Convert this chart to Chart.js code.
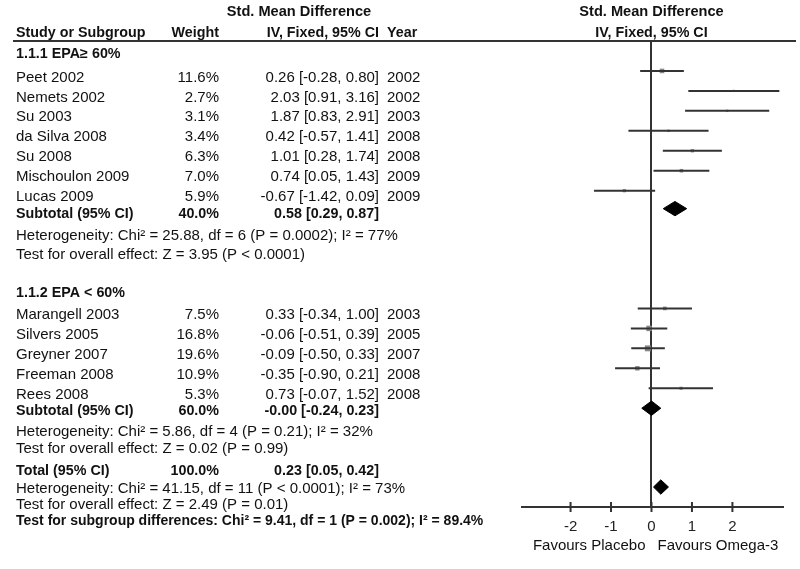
<!DOCTYPE html>
<html>
<head>
<meta charset="utf-8">
<script src="https://cdn.jsdelivr.net/npm/chart.js@4.4.1/dist/chart.umd.min.js"></script>
<style>
  html, body { margin: 0; padding: 0; background: #fff; }
  #wrap { width: 800px; height: 569px; }
</style>
</head>
<body>
<div id="wrap"><canvas id="forest" width="800" height="569"></canvas></div>
<script>
// 1.1.1 EPA >= 60%
const studies1 = ['Peet 2002', 'Nemets 2002', 'Su 2003', 'da Silva 2008', 'Su 2008', 'Mischoulon 2009', 'Lucas 2009'];
const weights1 = [11.6, 2.7, 3.1, 3.4, 6.3, 7.0, 5.9];
const smd1 = [0.26, 2.03, 1.87, 0.42, 1.01, 0.74, -0.67];
const lower1 = [-0.28, 0.91, 0.83, -0.57, 0.28, 0.05, -1.42];
const upper1 = [0.80, 3.16, 2.91, 1.41, 1.74, 1.43, 0.09];
const years1 = [2002, 2002, 2003, 2008, 2008, 2009, 2009];

// 1.1.2 EPA < 60%
const studies2 = ['Marangell 2003', 'Silvers 2005', 'Greyner 2007', 'Freeman 2008', 'Rees 2008'];
const weights2 = [7.5, 16.8, 19.6, 10.9, 5.3];
const smd2 = [0.33, -0.06, -0.09, -0.35, 0.73];
const lower2 = [-0.34, -0.51, -0.50, -0.90, -0.07];
const upper2 = [1.00, 0.39, 0.33, 0.21, 1.52];
const years2 = [2003, 2005, 2007, 2008, 2008];

// pooled: subtotal 1, subtotal 2, total
const pooledLabels = ['Subtotal (95% CI)', 'Subtotal (95% CI)', 'Total (95% CI)'];
const pooledWeights = [40.0, 60.0, 100.0];
const pooledSmd = [0.58, -0.00, 0.23];
const pooledLower = [0.29, -0.24, 0.05];
const pooledUpper = [0.87, 0.23, 0.42];

const groupTitles = ['1.1.1 EPA\u2265 60%', '1.1.2 EPA < 60%'];
const heterogeneity = [
  'Heterogeneity: Chi\u00b2 = 25.88, df = 6 (P = 0.0002); I\u00b2 = 77%',
  'Heterogeneity: Chi\u00b2 = 5.86, df = 4 (P = 0.21); I\u00b2 = 32%',
  'Heterogeneity: Chi\u00b2 = 41.15, df = 11 (P < 0.0001); I\u00b2 = 73%'
];
const overallEffect = [
  'Test for overall effect: Z = 3.95 (P < 0.0001)',
  'Test for overall effect: Z = 0.02 (P = 0.99)',
  'Test for overall effect: Z = 2.49 (P = 0.01)'
];
const subgroupTest = 'Test for subgroup differences: Chi\u00b2 = 9.41, df = 1 (P = 0.002); I\u00b2 = 89.4%';

const xTicks = [-2, -1, 0, 1, 2];
const favours = ['Favours Placebo', 'Favours Omega-3'];

// --- layout (y scale in row units, one study line = 1) ---
const FONT = "'Liberation Sans', Arial, sans-serif";
const rows1 = studies1.map((s, i) => 1 + i);
const rows2 = studies2.map((s, i) => 12.9 + i);
const pooledRows = [7.9, 17.9, 21.85];
const TEXT_SHIFT = 0.25;
const TEXT_DY = 1.5;
const groupTitleRows = [0.1, 12.05];
const pooledTextRows = [8.1, 17.95, 20.95];
const hetRows = [9.2, 19.0, 21.85];
const effectRows = [10.15, 19.85, 22.65];
const subgroupRow = 23.5;
const DIAMOND_H = 0.36;
const COL = { name: 16, weight: 219, ci: 379, year: 387 };
const INK = '#333';

function fmt(v) {
  return (Object.is(v, -0) ? '-' : '') + v.toFixed(2);
}
function ciText(est, lo, hi) {
  return fmt(est) + ' [' + fmt(lo) + ', ' + fmt(hi) + ']';
}

const allSmd = smd1.concat(smd2);
const allLower = lower1.concat(lower2);
const allUpper = upper1.concat(upper2);
const allWeights = weights1.concat(weights2);
const allRows = rows1.concat(rows2);

const datasets = [];

// confidence interval whiskers
allSmd.forEach((v, i) => {
  datasets.push({
    data: [{ x: allLower[i], y: allRows[i] }, { x: allUpper[i], y: allRows[i] }],
    showLine: true,
    borderColor: INK,
    borderWidth: 2,
    pointRadius: 0,
    order: 0
  });
});

// study squares, area ~ weight
datasets.push({
  data: allSmd.map((v, i) => ({ x: v, y: allRows[i] })),
  pointStyle: 'rect',
  pointRadius: ctx => 0.95 * Math.sqrt(allWeights[ctx.dataIndex]),
  backgroundColor: '#888',
  borderWidth: 0,
  order: 1
});

// pooled diamonds
pooledSmd.forEach((v, i) => {
  const r = pooledRows[i];
  datasets.push({
    data: [
      { x: pooledLower[i], y: r },
      { x: v, y: r - DIAMOND_H },
      { x: pooledUpper[i], y: r },
      { x: v, y: r + DIAMOND_H },
      { x: pooledLower[i], y: r }
    ],
    showLine: true,
    fill: 'shape',
    backgroundColor: '#000',
    borderColor: '#000',
    borderWidth: 1,
    pointRadius: 0,
    tension: 0,
    order: 0
  });
});

const tablePlugin = {
  id: 'forestTable',
  afterDraw(chart) {
    const { ctx, chartArea } = chart;
    const x = chart.scales.x, y = chart.scales.y;
    const py = r => y.getPixelForValue(r) + TEXT_DY;
    const put = (s, px, r, align, bold, size) => {
      ctx.font = (bold ? 'bold ' : '') + (size || (bold ? 14.3 : 15)) + 'px ' + FONT;
      ctx.textAlign = align;
      ctx.fillText(s, px, py(r));
    };
    ctx.save();
    ctx.fillStyle = '#111';
    ctx.textBaseline = 'middle';

    // header
    const zeroX = x.getPixelForValue(0);
    put('Std. Mean Difference', 299, -2.02, 'center', true, 14.6);
    put('Study or Subgroup', COL.name, -0.95, 'left', true);
    put('Weight', COL.weight, -0.95, 'right', true);
    put('IV, Fixed, 95% CI', COL.ci, -0.95, 'right', true);
    put('Year', COL.year, -0.95, 'left', true);
    put('Std. Mean Difference', zeroX, -2.02, 'center', true, 14.6);
    put('IV, Fixed, 95% CI', zeroX, -0.95, 'center', true);

    ctx.strokeStyle = INK;
    ctx.lineWidth = 2;
    ctx.beginPath();
    ctx.moveTo(13, chartArea.top);
    ctx.lineTo(796, chartArea.top);
    ctx.stroke();

    // groups
    const groups = [
      [studies1, weights1, smd1, lower1, upper1, years1, rows1],
      [studies2, weights2, smd2, lower2, upper2, years2, rows2]
    ];
    groups.forEach((g, gi) => {
      const [names, w, est, lo, hi, yr, rws] = g;
      put(groupTitles[gi], COL.name, groupTitleRows[gi], 'left', true);
      names.forEach((n, i) => {
        const r = rws[i] + TEXT_SHIFT;
        put(n, COL.name, r, 'left', false);
        put(w[i].toFixed(1) + '%', COL.weight, r, 'right', false);
        put(ciText(est[i], lo[i], hi[i]), COL.ci, r, 'right', false);
        put(String(yr[i]), COL.year, r, 'left', false);
      });
    });

    pooledLabels.forEach((lab, i) => {
      const r = pooledTextRows[i];
      put(lab, COL.name, r, 'left', true);
      put(pooledWeights[i].toFixed(1) + '%', COL.weight, r, 'right', true);
      put(ciText(pooledSmd[i], pooledLower[i], pooledUpper[i]), COL.ci, r, 'right', true);
      put(heterogeneity[i], COL.name, hetRows[i], 'left', false);
      put(overallEffect[i], COL.name, effectRows[i], 'left', false);
    });
    put(subgroupTest, COL.name, subgroupRow, 'left', true, 14);

    // tick marks crossing the axis
    const axisY = chartArea.bottom;
    ctx.beginPath();
    xTicks.forEach(v => {
      const px = x.getPixelForValue(v);
      ctx.moveTo(px, axisY - 5);
      ctx.lineTo(px, axisY + 5);
    });
    ctx.stroke();

    // favours labels
    ctx.font = '15px ' + FONT;
    ctx.textAlign = 'right';
    ctx.fillText(favours[0], zeroX - 6, 545.5);
    ctx.textAlign = 'left';
    ctx.fillText(favours[1], zeroX + 6, 545.5);
    ctx.restore();
  }
};

new Chart(document.getElementById('forest').getContext('2d'), {
  type: 'scatter',
  data: { datasets: datasets },
  options: {
    responsive: false,
    animation: false,
    layout: { padding: { left: 522, right: 17, top: 41, bottom: 22 } },
    plugins: {
      legend: { display: false },
      tooltip: { enabled: false }
    },
    scales: {
      x: {
        type: 'linear',
        min: -3.2,
        max: 3.25,
        afterBuildTicks: scale => { scale.ticks = xTicks.map(v => ({ value: v })); },
        grid: {
          color: c => (c.tick && c.tick.value === 0 ? INK : 'transparent'),
          lineWidth: 2,
          drawTicks: false
        },
        border: { color: INK, width: 2 },
        ticks: {
          color: '#222',
          padding: 11,
          font: { family: FONT, size: 15 },
          callback: v => String(v)
        }
      },
      y: {
        type: 'linear',
        display: false,
        reverse: true,
        min: -0.5,
        max: 22.85
      }
    }
  },
  plugins: [tablePlugin]
});
</script>
</body>
</html>
